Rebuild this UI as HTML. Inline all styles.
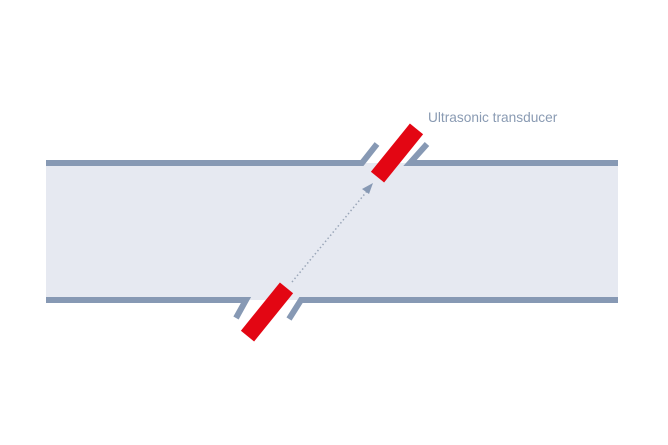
<!DOCTYPE html>
<html><head><meta charset="utf-8"><style>
html,body{margin:0;padding:0;background:#fff;}
svg{display:block;}
</style></head><body>
<svg width="668" height="445" viewBox="0 0 668 445" xmlns="http://www.w3.org/2000/svg">
<rect x="46" y="163" width="572" height="137" fill="#e6e9f1"/>
<g stroke="#8799b4" stroke-width="6" fill="none" stroke-linejoin="miter">
<polyline points="46,163 362,163 377,144"/>
<polyline points="427,144 410,163 618,163"/>
<polyline points="46,300 246,300 236,318"/>
<polyline points="289,319 301,300 618,300"/>
</g>
<line x1="292" y1="282" x2="368" y2="190" stroke="#9aa6b8" stroke-width="1.5" stroke-dasharray="1.5,2.5"/>
<polygon points="373,183 362,189 369,194" fill="#8799b4"/>
<g fill="#e30613">
<rect x="-8.5" y="-31" width="17" height="62" transform="translate(397,153) rotate(39)"/>
<rect x="-8.5" y="-31" width="17" height="62" transform="translate(267,312) rotate(39)"/>
</g>
<text x="428" y="122" font-family="Liberation Sans, sans-serif" font-size="13.7" fill="#8a9bb3">Ultrasonic transducer</text>
</svg>
</body></html>
